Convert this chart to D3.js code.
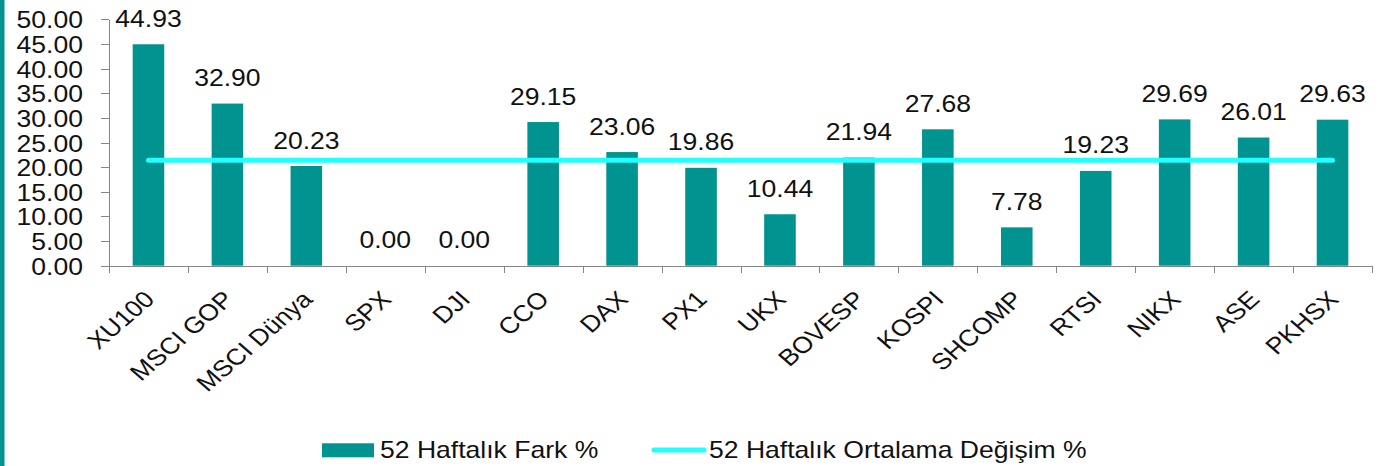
<html lang="tr">
<head>
	<meta charset="utf-8">
	<title>52 Haftalık Fark</title>
	<script src="https://d3js.org/d3.v7.min.js"></script>
	<style>
		body {
			margin: 0;
			background: #fff;
		}
		svg {
			display: block;
			font-family: "Liberation Sans", Arial, sans-serif;
		}
		.axis path, .axis line {
			stroke: #868686;
			shape-rendering: crispEdges;
		}
		.axis text {
			font-size: 23px;
			fill: #111;
		}
	</style>
</head>
<body>
	<svg id="chart" width="1392" height="466"></svg>
<script>
	// values
	var categories = ["XU100", "MSCI GOP", "MSCI Dünya", "SPX", "DJI", "CCO", "DAX", "PX1",
		"UKX", "BOVESP", "KOSPI", "SHCOMP", "RTSI", "NIKX", "ASE", "PKHSX"];
	var farkValues = [44.93, 32.90, 20.23, 0.00, 0.00, 29.15, 23.06, 19.86,
		10.44, 21.94, 27.68, 7.78, 19.23, 29.69, 26.01, 29.63];
	var ortalamaValues = [21.41, 21.41, 21.41, 21.41, 21.41, 21.41, 21.41, 21.41,
		21.41, 21.41, 21.41, 21.41, 21.41, 21.41, 21.41, 21.41];
	var yTicks = [0, 5, 10, 15, 20, 25, 30, 35, 40, 45, 50];
	var legendLabels = ["52 Haftalık Fark %", "52 Haftalık Ortalama Değişim %"];

	var barColor = "#00938f",
		lineColor = "#22ffff",
		stretch = 1.155; // text in the original is a bit wide

	var svg = d3.select("#chart");

	//left border stripe
	svg.append("rect")
		.attr("x", 0).attr("y", 0)
		.attr("width", 4.5).attr("height", 466)
		.attr("fill", barColor);

	// note: "top" is taken by window.top, so prefix these
	var plotLeft = 109, plotRight = 1372, plotTop = 19.3, plotBottom = 265.7;

	var x = d3.scaleBand().domain(categories).range([plotLeft, plotRight]).padding(0);
	var xi = d3.scaleLinear().domain([0, categories.length]).range([plotLeft, plotRight]);
	var y = d3.scaleLinear().domain([0, 50]).range([plotBottom, plotTop]);

	//y axis
	var yAxis = svg.append("g")
		.attr("class", "axis")
		.attr("transform", "translate(" + plotLeft + ",0)")
		.call(d3.axisLeft(y).tickValues(yTicks).tickFormat(d3.format(".2f"))
			.tickSize(8).tickSizeOuter(0).tickPadding(18));
	yAxis.selectAll("text")
		.attr("fill", "#111")
		.attr("dy", "0.37em")
		.each(function () {
			var t = d3.select(this);
			var tx = +t.attr("x");
			t.attr("x", 0).attr("transform", "translate(" + tx + ",0) scale(" + stretch + ",1)");
		});

	//x axis, ticks between categories
	svg.append("g")
		.attr("class", "axis")
		.attr("transform", "translate(0," + plotBottom + ")")
		.call(d3.axisBottom(xi).tickValues(d3.range(categories.length + 1))
			.tickFormat("").tickSize(7).tickSizeOuter(0));

	//category labels
	svg.append("g").selectAll("text")
		.data(categories)
		.enter().append("text")
		.attr("transform", function (d) {
			var cx = x(d) + x.bandwidth() / 2 + 7.5;
			return "translate(" + cx + "," + (plotBottom + 35) + ") scale(" + stretch + ",1) rotate(-45)";
		})
		.attr("text-anchor", "end")
		.style("font-size", "23px")
		.attr("fill", "#111")
		.text(function (d) { return d; });

	//bars
	var barW = x.bandwidth() * 0.4;
	svg.append("g").selectAll("rect")
		.data(farkValues)
		.enter().append("rect")
		.attr("x", function (d, i) { return x(categories[i]) + (x.bandwidth() - barW) / 2; })
		.attr("y", function (d) { return y(d); })
		.attr("width", barW)
		.attr("height", function (d) { return y(0) - y(d); })
		.attr("fill", barColor);

	//average line
	var line = d3.line()
		.x(function (d, i) { return x(categories[i]) + x.bandwidth() / 2; })
		.y(function (d) { return y(d); });
	svg.append("path")
		.datum(ortalamaValues)
		.attr("d", line)
		.attr("fill", "none")
		.attr("stroke", lineColor)
		.attr("stroke-width", 5)
		.attr("stroke-linecap", "round");

	//value labels
	svg.append("g").selectAll("text")
		.data(farkValues)
		.enter().append("text")
		.attr("transform", function (d, i) {
			var cx = x(categories[i]) + x.bandwidth() / 2;
			return "translate(" + cx + "," + (y(d) - 17.5) + ") scale(" + stretch + ",1)";
		})
		.attr("text-anchor", "middle")
		.style("font-size", "23px")
		.attr("fill", "#111")
		.text(function (d) { return d3.format(".2f")(d); });

	//legend
	var legend = svg.append("g");
	legend.append("rect")
		.attr("x", 322).attr("y", 443.3)
		.attr("width", 52).attr("height", 14)
		.attr("fill", barColor);
	legend.append("text")
		.attr("transform", "translate(380," + 458 + ") scale(" + stretch + ",1)")
		.style("font-size", "23px")
		.attr("fill", "#111")
		.text(legendLabels[0]);
	legend.append("line")
		.attr("x1", 654).attr("x2", 704)
		.attr("y1", 450).attr("y2", 450)
		.attr("stroke", lineColor)
		.attr("stroke-width", 5)
		.attr("stroke-linecap", "round");
	legend.append("text")
		.attr("transform", "translate(709," + 458 + ") scale(" + stretch + ",1)")
		.style("font-size", "23px")
		.attr("fill", "#111")
		.text(legendLabels[1]);
</script>
</body>
</html>
